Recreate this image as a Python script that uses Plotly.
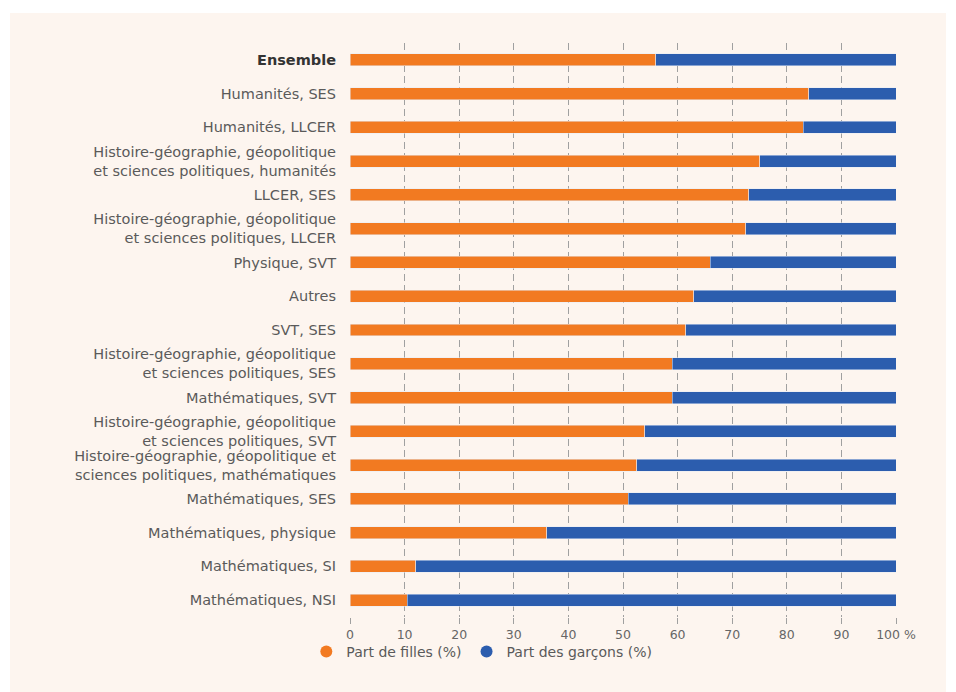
import plotly.graph_objects as go

categories = [
    "<b><span style='color:#333'>Ensemble</span></b>",
    "Humanités, SES",
    "Humanités, LLCER",
    "Histoire-géographie, géopolitique<br>et sciences politiques, humanités",
    "LLCER, SES",
    "Histoire-géographie, géopolitique<br>et sciences politiques, LLCER",
    "Physique, SVT",
    "Autres",
    "SVT, SES",
    "Histoire-géographie, géopolitique<br>et sciences politiques, SES",
    "Mathématiques, SVT",
    "Histoire-géographie, géopolitique<br>et sciences politiques, SVT",
    "Histoire-géographie, géopolitique et<br>sciences politiques, mathématiques",
    "Mathématiques, SES",
    "Mathématiques, physique",
    "Mathématiques, SI",
    "Mathématiques, NSI",
]
filles = [56, 84, 83, 75, 73, 72.5, 66, 63, 61.5, 59, 59, 54, 52.5, 51, 36, 12, 10.5]
garcons = [44, 16, 17, 25, 27, 27.5, 34, 37, 38.5, 41, 41, 46, 47.5, 49, 64, 88, 89.5]

tick_vals = [0, 10, 20, 30, 40, 50, 60, 70, 80, 90, 100]
tick_text = ["0", "10", "20", "30", "40", "50", "60", "70", "80", "90", "100 %"]

ORANGE = "#F27A21"
BLUE = "#2C5DAE"
PANEL = "#FDF5EF"
GREY = "#5a5a5a"
FONT = "DejaVu Sans"

fig = go.Figure()
fig.add_trace(go.Bar(y=categories, x=filles, orientation="h", marker=dict(color=ORANGE),
                     name="Part de filles (%)", showlegend=False))
fig.add_trace(go.Bar(y=categories, x=garcons, orientation="h", marker=dict(color=BLUE),
                     name="Part des garçons (%)", showlegend=False))

# legend entries drawn as round markers
fig.add_trace(go.Scatter(x=[None], y=[None], mode="markers", name="Part de filles (%)",
                         marker=dict(color=ORANGE, size=12, symbol="circle")))
fig.add_trace(go.Scatter(x=[None], y=[None], mode="markers", name="Part des garçons (%)",
                         marker=dict(color=BLUE, size=12, symbol="circle")))

# beige panel behind the chart
fig.add_shape(type="rect", xref="paper", yref="paper", x0=-0.6227, x1=1.0916,
              y0=-0.16, y1=1.0523, fillcolor=PANEL, line=dict(width=0), layer="below")

fig.update_layout(
    width=948, height=684,
    barmode="stack", bargap=0.645,
    paper_bgcolor="white", plot_bgcolor="rgba(0,0,0,0)",
    margin=dict(l=342, r=60, t=35, b=75),
    font=dict(family=FONT, size=12, color=GREY),
    showlegend=True,
    legend=dict(orientation="h", traceorder="normal", x=-0.08, xanchor="left",
                y=-0.061, yanchor="middle",
                font=dict(family=FONT, size=14, color=GREY), itemwidth=30,
                bgcolor="rgba(0,0,0,0)"),
)
fig.update_xaxes(range=[0, 100], tickvals=tick_vals, ticktext=tick_text,
                 showgrid=True, gridcolor="#a0a0a0", griddash="7px,4px", gridwidth=1,
                 zeroline=False, showline=False, ticks="outside", ticklen=6,
                 tickcolor="#a0a0a0", tickfont=dict(family=FONT, size=12.5, color="#666"))
fig.update_yaxes(autorange="reversed", showgrid=False, showline=False, ticks="",
                 ticklabelstandoff=13, tickfont=dict(family=FONT, size=14.5, color=GREY))

fig.write_html("out.html")
